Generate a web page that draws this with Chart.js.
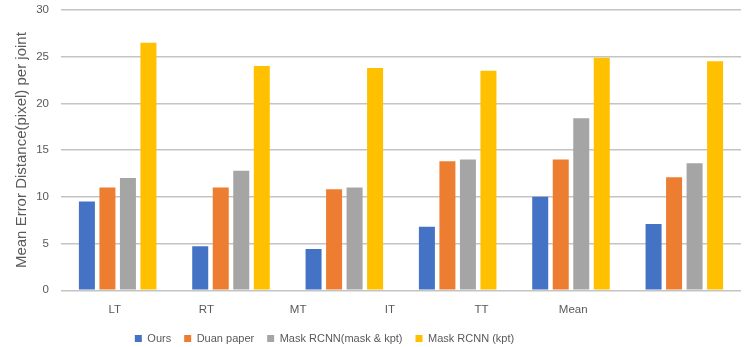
<!DOCTYPE html>
<html>
<head>
<meta charset="utf-8">
<script src="https://cdn.jsdelivr.net/npm/chart.js@4/dist/chart.umd.min.js"></script>
<style>
  html, body { margin: 0; padding: 0; background: #fff; }
  #wrap { width: 745px; height: 347px; position: relative; }
</style>
</head>
<body>
<div id="wrap"><canvas id="c"></canvas></div>
<script>
// Joint categories and mean error per method (pixels)
const categories = ['LT', 'RT', 'MT', 'IT', 'TT', 'Mean'];
const ours       = [9.5, 4.7, 4.4, 6.8, 10.0, 7.1];
const duanPaper  = [11.0, 11.0, 10.8, 13.8, 14.0, 12.1];
const maskKpt    = [12.0, 12.8, 11.0, 14.0, 18.4, 13.6];
const kptOnly    = [26.5, 24.0, 23.8, 23.5, 24.9, 24.5];
const yTicks     = [0, 5, 10, 15, 20, 25, 30];

const FONT = '"Liberation Sans", Arial, sans-serif';
const TXT = '#595959';

// Shift the legend block left so it sits under the label row
const legendShift = {
  id: 'legendShift',
  afterLayout(chart) {
    const lg = chart.legend;
    if (lg) { lg.left -= 46; lg.right -= 46; }
  }
};

new Chart(document.getElementById('c'), {
  type: 'bar',
  data: {
    labels: categories,
    datasets: [
      { label: 'Ours', data: ours, backgroundColor: '#4472C4' },
      { label: 'Duan paper', data: duanPaper, backgroundColor: '#ED7D31' },
      { label: 'Mask RCNN(mask & kpt)', data: maskKpt, backgroundColor: '#A5A5A5' },
      { label: 'Mask RCNN (kpt)', data: kptOnly, backgroundColor: '#FFC000' }
    ]
  },
  options: {
    responsive: true,
    maintainAspectRatio: false,
    animation: false,
    devicePixelRatio: 1,
    layout: { padding: { top: 10, right: 4, left: 0, bottom: -7 } },
    datasets: { bar: { categoryPercentage: 0.724, barPercentage: 0.78 } },
    scales: {
      x: { display: false },
      xl: {
        type: 'linear',
        position: 'bottom',
        offset: false,
        min: -0.586,
        max: 6.83,
        afterBuildTicks(axis) { axis.ticks = categories.map((_, i) => ({ value: i })); },
        afterFit(s) { s.height -= 2; },
        grid: { display: false },
        border: { display: false },
        ticks: {
          color: TXT,
          font: { family: FONT, size: 11.5 },
          padding: 5,
          maxRotation: 0,
          autoSkip: false,
          callback: (v) => categories[v]
        }
      },
      y: {
        min: 0,
        max: 30,
        afterBuildTicks(axis) { axis.ticks = yTicks.map(v => ({ value: v })); },
        afterFit(s) { s.width = 61; s.paddingTop = 0; s.paddingBottom = 0; },
        grid: { color: '#c4c4c4', lineWidth: 1.4, drawTicks: false },
        border: { display: false },
        ticks: {
          color: TXT,
          font: { family: FONT, size: 11.5 },
          padding: 12
        },
        title: {
          display: true,
          text: 'Mean Error Distance(pixel) per joint',
          color: TXT,
          font: { family: FONT, size: 15 },
          padding: { top: 13, bottom: 0 }
        }
      }
    },
    plugins: {
      tooltip: { enabled: false },
      legend: {
        position: 'bottom',
        labels: {
          color: TXT,
          font: { family: FONT, size: 11 },
          boxWidth: 7,
          boxHeight: 7,
          padding: 13
        }
      }
    }
  },
  plugins: [legendShift]
});
</script>
</body>
</html>
